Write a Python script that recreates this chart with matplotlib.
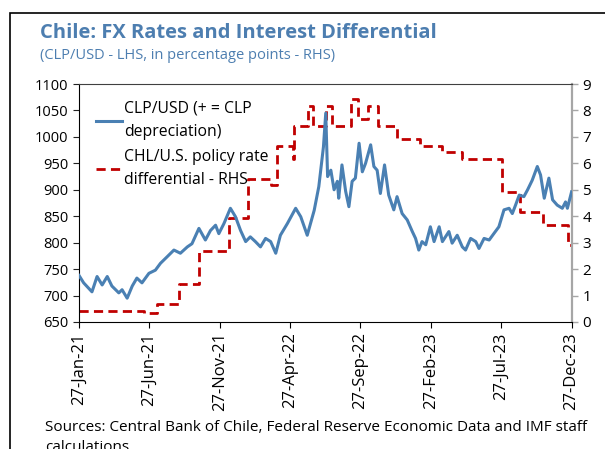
import numpy as np
import pandas as pd
import matplotlib
matplotlib.use("Agg")
import matplotlib.pyplot as plt
import matplotlib.dates as mdates
from matplotlib.patches import Rectangle

plt.rcParams['font.family'] = ['Open Sans', 'DejaVu Sans']

# CLP/USD (approx. every 1-2 weeks)
fx_dates = ["2021-01-27", "2021-02-06", "2021-02-24", "2021-03-07", "2021-03-18", "2021-03-29",
            "2021-04-08", "2021-04-23", "2021-04-30", "2021-05-11", "2021-05-22", "2021-06-01",
            "2021-06-12", "2021-06-27", "2021-07-11", "2021-07-22", "2021-08-05", "2021-08-20",
            "2021-09-03", "2021-09-18", "2021-09-28", "2021-10-13", "2021-10-27", "2021-11-07",
            "2021-11-18", "2021-11-25", "2021-12-06", "2021-12-20", "2021-12-31", "2022-01-11",
            "2022-01-22", "2022-02-01", "2022-02-12", "2022-02-23", "2022-03-06", "2022-03-17",
            "2022-03-28", "2022-04-07", "2022-04-22", "2022-05-10", "2022-05-21", "2022-06-04",
            "2022-06-19", "2022-06-29", "2022-07-09", "2022-07-14", "2022-07-18", "2022-07-25",
            "2022-08-01", "2022-08-08", "2022-08-11", "2022-08-18", "2022-08-26", "2022-09-02",
            "2022-09-09", "2022-09-16", "2022-09-24", "2022-10-01", "2022-10-08", "2022-10-19",
            "2022-10-26", "2022-11-02", "2022-11-09", "2022-11-18", "2022-11-27", "2022-12-08",
            "2022-12-15", "2022-12-26", "2023-01-06", "2023-01-17", "2023-01-24", "2023-01-31",
            "2023-02-07", "2023-02-15", "2023-02-25", "2023-03-05", "2023-03-16", "2023-03-23",
            "2023-04-06", "2023-04-13", "2023-04-24", "2023-05-05", "2023-05-12", "2023-05-23",
            "2023-06-03", "2023-06-10", "2023-06-21", "2023-07-02", "2023-07-12", "2023-07-23",
            "2023-08-03", "2023-08-14", "2023-08-21", "2023-08-28", "2023-09-05", "2023-09-15",
            "2023-09-23", "2023-10-03", "2023-10-14", "2023-10-21", "2023-10-29", "2023-11-08",
            "2023-11-16", "2023-11-26", "2023-12-07", "2023-12-14", "2023-12-18", "2023-12-27"]
fx_values = [738, 724, 707, 736, 720, 736,
             718, 705, 711, 695, 718, 733,
             724, 742, 748, 761, 773, 786,
             780, 792, 798, 827, 805, 823,
             833, 817, 836, 865, 849, 823,
             802, 811, 802, 792, 808, 802,
             780, 814, 836, 865, 849, 814,
             861, 906, 981, 1045, 925, 937,
             900, 916, 884, 947, 897, 868,
             916, 922, 988, 934, 950, 985,
             944, 937, 893, 947, 890, 862,
             887, 855, 843, 821, 808, 786,
             802, 796, 830, 802, 830, 802,
             821, 799, 814, 792, 786, 808,
             802, 789, 808, 805, 817, 830,
             862, 865, 855, 871, 890, 887,
             900, 918, 944, 928, 884, 922,
             881, 871, 865, 877, 865, 896]

# policy rate differential (pp), value from each date on
diff_dates = ["2021-01-27", "2021-06-17", "2021-07-15", "2021-09-01", "2021-10-14", "2021-12-16",
              "2022-01-27", "2022-03-17", "2022-03-31", "2022-05-05", "2022-05-07", "2022-06-06",
              "2022-06-16", "2022-07-14", "2022-07-28", "2022-09-07", "2022-09-22", "2022-10-13",
              "2022-11-03", "2022-12-15", "2023-02-02", "2023-03-23", "2023-05-04", "2023-07-29",
              "2023-09-06", "2023-10-26", "2023-12-19", "2023-12-27"]
diff_values = [0.42, 0.35, 0.67, 1.42, 2.67, 3.92,
               5.42, 5.17, 6.67, 6.17, 7.42, 8.17,
               7.42, 8.17, 7.42, 8.42, 7.67, 8.17,
               7.42, 6.92, 6.67, 6.42, 6.17, 4.92,
               4.17, 3.67, 2.92, 2.92]

tick_dates = ["2021-01-27", "2021-06-27", "2021-11-27", "2022-04-27",
              "2022-09-27", "2023-02-27", "2023-07-27", "2023-12-27"]

fx_d = pd.to_datetime(fx_dates)
diff_d = pd.to_datetime(diff_dates)
ticks = pd.to_datetime(tick_dates)

blue = '#4A80B3'
red = '#C00000'
title_col = '#4D7EB0'

fig = plt.figure(figsize=(6.05, 4.49), dpi=100)
ax = fig.add_axes([0.1306, 0.2829, 0.8149, 0.5300])
ax2 = ax.twinx()

l1, = ax.plot(fx_d, fx_values, color=blue, lw=2.2, zorder=3)
l2, = ax2.plot(diff_d, diff_values, color=red, lw=2.0, ls=(0, (3.3, 1.9)), drawstyle='steps-post')
ax.set_zorder(ax2.get_zorder() + 1)
ax.patch.set_visible(False)

ax.set_ylim(650, 1100)
ax.set_yticks(np.arange(650, 1101, 50))
ax2.set_ylim(0, 9)
ax2.set_yticks(range(0, 10))
ax.set_xlim(pd.Timestamp("2021-01-27"), pd.Timestamp("2023-12-28"))
ax.set_xticks(ticks)
ax.xaxis.set_major_formatter(mdates.DateFormatter('%d-%b-%y'))
plt.setp(ax.get_xticklabels(), rotation=90)

for a in (ax, ax2):
    a.tick_params(labelsize=10.5, length=4, direction='out')
ax.tick_params(axis='x', labelsize=12)
ax.tick_params(axis='y', colors='#222222', labelcolor='black')
ax2.tick_params(axis='y', colors='#A6A6A6', labelcolor='black', width=1, labelsize=11)
ax.spines['right'].set_visible(False)
ax.spines['top'].set_color('#404040')
ax2.spines['left'].set_visible(False)
ax2.spines['bottom'].set_visible(False)
ax2.spines['top'].set_visible(False)
ax2.spines['right'].set_color('#A6A6A6')
ax2.spines['right'].set_linewidth(1.6)

leg = ax.legend([l1, l2], ["CLP/USD (+ = CLP\ndepreciation)", "CHL/U.S. policy rate\ndifferential - RHS"],
                loc='upper left', bbox_to_anchor=(0.005, 0.99), frameon=False, fontsize=11.3,
                handlelength=1.7, handletextpad=0.1, labelspacing=0.6)
for t in leg.get_texts():
    t.set_linespacing(1.6)

fig.text(0.066, 0.915, "Chile: FX Rates and Interest Differential", color=title_col,
         fontsize=14.5, fontweight='bold')
fig.text(0.066, 0.868, "(CLP/USD - LHS, in percentage points - RHS)", color=title_col, fontsize=10.5)
fig.text(0.074, 0.04, "Sources: Central Bank of Chile, Federal Reserve Economic Data and IMF staff",
         fontsize=11)
fig.text(0.074, -0.005, "calculations.", fontsize=11)

fig.patches.append(Rectangle((10 / 605, -0.5), 2.0, 0.5 + 436 / 449, transform=fig.transFigure,
                             fill=False, edgecolor='black', lw=1.2))

fig.savefig("out.png", dpi=100)
